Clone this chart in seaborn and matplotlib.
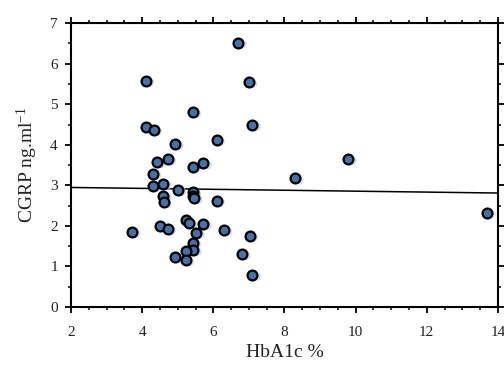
import matplotlib
matplotlib.use("Agg")
import matplotlib.pyplot as plt
import matplotlib.transforms as mtransforms
from matplotlib.ticker import MultipleLocator
import numpy as np
import pandas as pd
import seaborn as sns

# HbA1c (%) and plasma CGRP (ng/ml) per subject
hba1c = [4.10, 6.70, 7.00, 5.42, 4.10, 4.32, 7.10, 4.93, 6.09, 4.72,
         4.43, 5.42, 5.72, 4.30, 4.30, 4.59, 5.00, 5.42, 5.44, 5.46,
         4.59, 4.60, 6.09, 5.22, 5.31, 4.49, 4.72, 5.72, 5.52, 3.71,
         6.30, 7.02, 5.42, 5.44, 5.22, 4.91, 5.22, 6.81, 7.10, 8.30,
         9.79, 13.70]
cgrp = [5.58, 6.52, 5.54, 4.81, 4.45, 4.37, 4.49, 4.02, 4.12, 3.64,
        3.57, 3.46, 3.54, 3.29, 2.98, 3.04, 2.88, 2.84, 2.74, 2.68,
        2.74, 2.58, 2.62, 2.15, 2.08, 2.00, 1.92, 2.05, 1.83, 1.85,
        1.89, 1.75, 1.58, 1.40, 1.39, 1.23, 1.15, 1.31, 0.79, 3.17,
        3.65, 2.33]

x_ticks = [2, 4, 6, 8, 10, 12, 14]
y_ticks = [0, 1, 2, 3, 4, 5, 6, 7]

df = pd.DataFrame({"HbA1c": hba1c, "CGRP": cgrp})

sns.set_theme(style="white")
plt.rcParams["font.family"] = ["Liberation Serif", "DejaVu Serif"]
plt.rcParams["mathtext.fontset"] = "custom"
plt.rcParams["mathtext.rm"] = "Liberation Serif"
plt.rcParams["mathtext.it"] = "Liberation Serif:italic"

fig = plt.figure(figsize=(5.04, 3.67), dpi=100)
ax = fig.add_axes([0.1409, 0.1635, 0.988 - 0.1409, 0.937 - 0.1635])
ax.set_xlim(x_ticks[0], x_ticks[-1])
ax.set_ylim(y_ticks[0], y_ticks[-1])

# soft drop shadow to the lower right of each marker
shadow = mtransforms.offset_copy(ax.transData, fig=fig, x=4, y=-1.5, units="dots")
ax.scatter(df["HbA1c"], df["CGRP"], s=40, marker="o", color="#c9d8ec",
           edgecolor="none", alpha=0.8, transform=shadow, zorder=2)

sns.regplot(data=df, x="HbA1c", y="CGRP", ax=ax, ci=None, truncate=False,
            scatter_kws=dict(s=50, color="#4671a8", edgecolor="black",
                             linewidths=1.6, alpha=1, zorder=3),
            line_kws=dict(color="black", lw=1.1, zorder=1))

ax.set_xticks(x_ticks)
ax.set_yticks(y_ticks)
ax.xaxis.set_minor_locator(MultipleLocator(0.5))
ax.yaxis.set_minor_locator(MultipleLocator(0.5))

for side in ["left", "right", "top", "bottom"]:
    ax.spines[side].set_visible(True)
    ax.spines[side].set_color("black")
    ax.spines[side].set_linewidth(1.5)

ax.tick_params(which="both", direction="out", color="black",
               top=True, right=True, left=True, bottom=True,
               labeltop=False, labelright=False)
ax.tick_params(which="major", length=4.5, width=1.3)
ax.tick_params(which="minor", length=2.5, width=1.1)
ax.tick_params(axis="x", which="major", pad=9, labelsize=11, labelcolor="#222222")
ax.tick_params(axis="y", which="major", pad=5, labelsize=11, labelcolor="#222222")

ax.set_xlabel("HbA1c %", fontsize=14, color="#222222", labelpad=4)
ax.set_ylabel("CGRP ng.ml$^{-1}$", fontsize=14, color="#222222", labelpad=7)
ax.grid(False)

fig.savefig("out.png", dpi=100)
